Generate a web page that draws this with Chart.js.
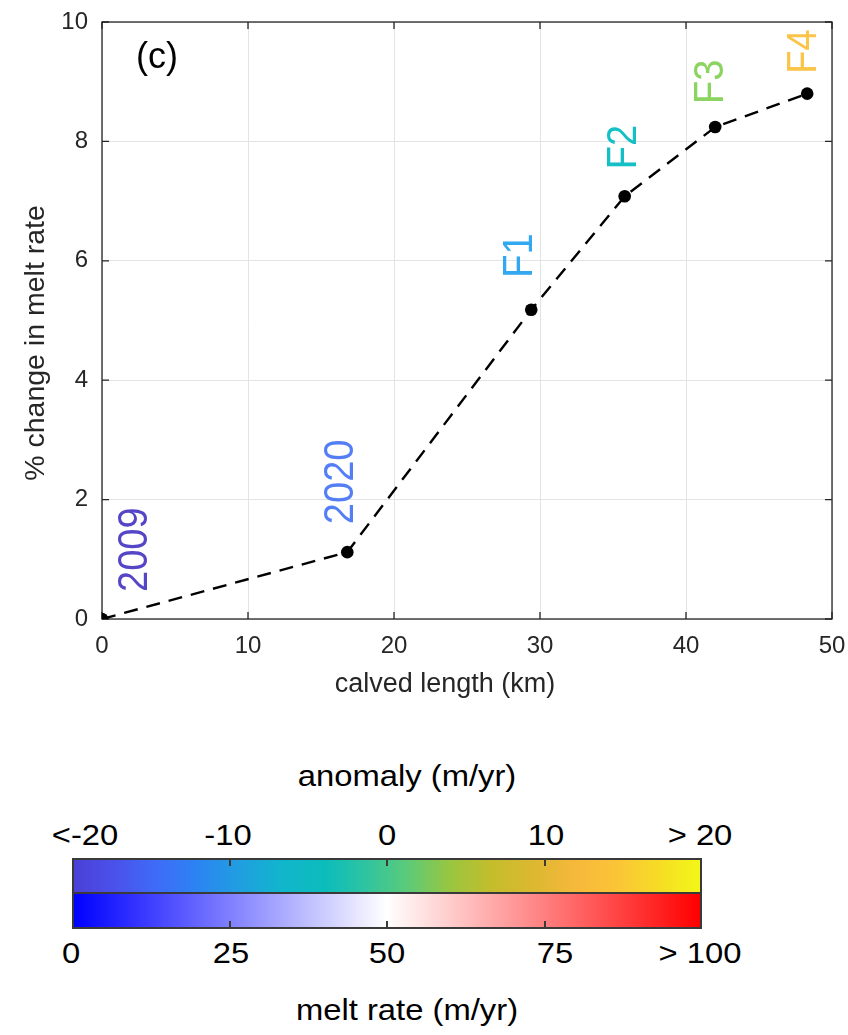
<!DOCTYPE html>
<html>
<head>
<meta charset="utf-8">
<script src="https://cdn.jsdelivr.net/npm/chart.js@4.4.1/dist/chart.umd.min.js"></script>
<style>
  html, body { margin: 0; padding: 0; background: #fff; }
  body { width: 848px; height: 1035px; position: relative; overflow: hidden;
         font-family: "Liberation Sans", Arial, sans-serif; }
  #plotWrap { position: absolute; left: 0; top: 0; width: 848px; height: 700px; }
  .bar { position: absolute; left: 72px; width: 630px; box-sizing: border-box;
         border: 2px solid #3a3a3a; }
  .tick { position: absolute; width: 2px; height: 6px; background: #3a3a3a; }
  .lbl { position: absolute; font-size: 29px; line-height: 29px; color: #000;
         white-space: nowrap; transform: translateX(-50%) scaleX(1.13); }
</style>
</head>
<body>
<div id="plotWrap"><canvas id="chart" width="848" height="700"></canvas></div>
<div id="cbar"></div>
<script>
// data
const calvedKm = [0, 16.8, 29.4, 35.8, 42.0, 48.3];
const meltChange = [0, 1.12, 5.18, 7.08, 8.24, 8.80];
const pointNames = ["2009", "2020", "F1", "F2", "F3", "F4"];
const nameColors = ["#5446c6", "#547ef6", "#31a8ef", "#14c0c6", "#8ad45f", "#fbc54a"];
const nameShift = [[30, -27], [-9, -28], [-14, -32], [-4, -27], [-7, -23], [-6, -20]];

const xTicks = [0, 10, 20, 30, 40, 50];
const yTicks = [0, 2, 4, 6, 8, 10];
const xTitle = "calved length (km)";
const yTitle = "% change in melt rate";

const anomalyTicks = ["<-20", "-10", "0", "10", "> 20"];
const meltTicks = ["0", "25", "50", "75", "> 100"];
const anomalyColors = ["#4b40d6", "#4a52ec", "#3e6cf8", "#2b85f2", "#209fe0", "#10b6cc",
  "#0bbcbc", "#2fc4a0", "#5ccb78", "#98c640", "#c4bd2c", "#dcb830", "#f6b83b",
  "#fbc437", "#f6dc25", "#f3f718"];
const meltColors = ["#0000ff", "#8080ff", "#ffffff", "#ff8080", "#ff0000"];

const ink = "#262626";
const fam = "'Liberation Sans', Arial, sans-serif";

const boxPlugin = {
  id: "box",
  beforeDatasetsDraw(chart) {
    const { ctx, chartArea: a, scales } = chart;
    ctx.save();
    ctx.strokeStyle = ink;
    ctx.lineWidth = 1.3;
    ctx.strokeRect(a.left, a.top, a.right - a.left, a.bottom - a.top);
    ctx.beginPath();
    xTicks.forEach(v => {
      const px = scales.x.getPixelForValue(v);
      ctx.moveTo(px, a.bottom); ctx.lineTo(px, a.bottom - 7);
      ctx.moveTo(px, a.top); ctx.lineTo(px, a.top + 7);
    });
    yTicks.forEach(v => {
      const py = scales.y.getPixelForValue(v);
      ctx.moveTo(a.left, py); ctx.lineTo(a.left + 7, py);
      ctx.moveTo(a.right, py); ctx.lineTo(a.right - 7, py);
    });
    ctx.stroke();

    // axis titles (sit a little off-centre in the original)
    ctx.fillStyle = ink;
    ctx.textAlign = "center";
    ctx.textBaseline = "alphabetic";
    ctx.font = "27px " + fam;
    ctx.fillText(xTitle, 445, 692);
    ctx.save();
    ctx.font = "28.5px " + fam;
    ctx.translate(44, 343);
    ctx.rotate(-Math.PI / 2);
    ctx.fillText(yTitle, 0, 0);
    ctx.restore();
    ctx.restore();
  },
  afterDatasetsDraw(chart) {
    const { ctx, scales } = chart;
    ctx.save();
    ctx.fillStyle = "#000";
    ctx.font = "36px " + fam;
    ctx.textAlign = "center";
    ctx.textBaseline = "middle";
    ctx.fillText("(c)", 157, 58);

    const fs = 38;
    ctx.font = fs + "px " + fam;
    ctx.textAlign = "left";
    ctx.textBaseline = "alphabetic";
    pointNames.forEach((name, i) => {
      const px = scales.x.getPixelForValue(calvedKm[i]) + nameShift[i][0];
      const py = scales.y.getPixelForValue(meltChange[i]) + nameShift[i][1];
      ctx.save();
      ctx.translate(px, py);
      ctx.rotate(-Math.PI / 2);
      ctx.scale(1, 1.1);
      ctx.fillStyle = nameColors[i];
      ctx.fillText(name, 0, fs * 0.358);
      ctx.restore();
    });
    ctx.restore();
  }
};

new Chart(document.getElementById("chart").getContext("2d"), {
  type: "scatter",
  data: {
    datasets: [{
      data: calvedKm.map((x, i) => ({ x: x, y: meltChange[i] })),
      showLine: true,
      borderColor: "#000",
      borderWidth: 2.4,
      borderDash: [14, 9],
      pointRadius: 6.3,
      pointHoverRadius: 6.3,
      pointBackgroundColor: "#000",
      pointBorderWidth: 0
    }]
  },
  options: {
    responsive: false,
    animation: false,
    layout: { padding: { top: 22, right: 16, left: 0, bottom: 0 } },
    plugins: { legend: { display: false }, tooltip: { enabled: false } },
    scales: {
      x: {
        type: "linear", min: 0, max: 50,
        afterBuildTicks(scale) { scale.ticks = xTicks.map(v => ({ value: v })); },
        afterFit(scale) { scale.height = 81; scale.paddingLeft = 0; scale.paddingRight = 0; },
        ticks: { color: ink, font: { size: 24, family: fam }, padding: 13 },
        grid: { color: "#e3e3e3", lineWidth: 1, drawTicks: false },
        border: { display: false }
      },
      y: {
        type: "linear", min: 0, max: 10,
        afterBuildTicks(scale) { scale.ticks = yTicks.map(v => ({ value: v })); },
        afterFit(scale) { scale.width = 102; scale.paddingTop = 0; scale.paddingBottom = 0; },
        ticks: { color: ink, font: { size: 24, family: fam }, padding: 14 },
        grid: { color: "#e3e3e3", lineWidth: 1, drawTicks: false },
        border: { display: false }
      }
    }
  },
  plugins: [boxPlugin]
});

// colour bars below the plot
const cb = document.getElementById("cbar");
const barLeft = 72, barWidth = 630;
function gradient(cols) {
  return "linear-gradient(to right, " + cols.map((c, i) =>
    c + " " + (i / (cols.length - 1) * 100).toFixed(2) + "%").join(", ") + ")";
}
function addDiv(cls, style, text) {
  const d = document.createElement("div");
  d.className = cls;
  Object.assign(d.style, style);
  if (text !== undefined) d.textContent = text;
  cb.appendChild(d);
  return d;
}
addDiv("bar", { top: "858px", height: "36px", background: gradient(anomalyColors) });
addDiv("bar", { top: "892px", height: "37px", background: gradient(meltColors) });
[0.25, 0.5, 0.75].forEach(f => {
  const x = barLeft + f * barWidth - 1;
  addDiv("tick", { left: x + "px", top: "860px" });
  addDiv("tick", { left: x + "px", top: "921px" });
});
const anomalyPos = [85, 228, 387, 546, 700];
const meltPos = [71, 231, 387, 555, 700];
anomalyTicks.forEach((t, i) => addDiv("lbl", { left: anomalyPos[i] + "px", top: "821px" }, t));
meltTicks.forEach((t, i) => addDiv("lbl", { left: meltPos[i] + "px", top: "939px" }, t));
addDiv("lbl", { left: "407px", top: "762px" }, "anomaly (m/yr)");
addDiv("lbl", { left: "407px", top: "996px" }, "melt rate (m/yr)");
</script>
</body>
</html>
